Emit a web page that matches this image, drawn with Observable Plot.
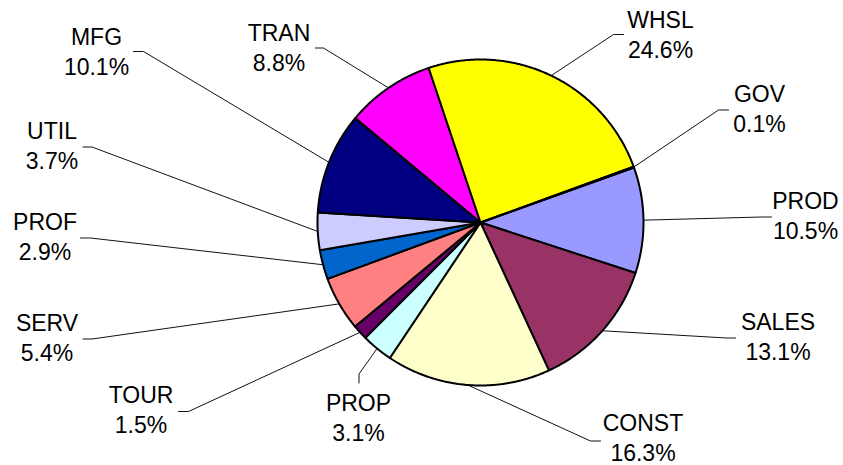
<!DOCTYPE html>
<html>
<head>
<meta charset="utf-8">
<script src="https://cdn.jsdelivr.net/npm/d3@7"></script>
<script src="https://cdn.jsdelivr.net/npm/@observablehq/plot@0.6"></script>
<style>
  html, body { margin: 0; padding: 0; background: #fff; }
  #chart svg { display: block; }
</style>
</head>
<body>
<div id="chart"></div>
<script>
// ---- data ----
const sectors = ["PROD", "SALES", "CONST", "PROP", "TOUR", "SERV", "PROF", "UTIL", "MFG", "TRAN", "WHSL", "GOV"];
const shares  = [10.5, 13.1, 16.3, 3.1, 1.5, 5.4, 2.9, 3.7, 10.1, 8.8, 24.6, 0.1];

// ---- style ----
const palette = ["#9999FF", "#993366", "#FFFFCC", "#CCFFFF", "#660066", "#FF8080", "#0066CC", "#CCCCFF", "#000080", "#FF00FF", "#FFFF00", "#00FFFF"];

// ---- layout ----
const W = 843, H = 465, CX = 480, CY = 222, R = 163, START_DEG = 70.3;
const FONT = 23, LINE = 30;
// label center x, first-line baseline y, leader: label-side end and elbow
const labelLayout = {
  WHSL:  {x: 660,   y: 27.5,  end: [623, 34],    elbow: [613, 34]},
  GOV:   {x: 759,   y: 101.5, end: [728, 109.5], elbow: [718, 109.5]},
  PROD:  {x: 805,   y: 208.5, end: [771, 216.5], elbow: [761, 216.5]},
  SALES: {x: 777.5, y: 329,   end: [735, 337.5], elbow: [726, 337.5]},
  CONST: {x: 642.5, y: 430,   end: [600, 440.5], elbow: [590, 440.5]},
  PROP:  {x: 358,   y: 410,   end: [358.5, 382.5], elbow: [358.5, 373.5]},
  TOUR:  {x: 140.5, y: 402.5, end: [178, 411],   elbow: [188, 411]},
  SERV:  {x: 46.5,  y: 330.5, end: [82.5, 338.5], elbow: [91.5, 338.5]},
  PROF:  {x: 44.5,  y: 229.5, end: [80, 237.5],  elbow: [90, 237.5]},
  UTIL:  {x: 51.5,  y: 138.5, end: [82.5, 146.5], elbow: [91.5, 146.5]},
  MFG:   {x: 96,    y: 44,    end: [133, 51],    elbow: [143, 51]},
  TRAN:  {x: 278.5, y: 40,    end: [315, 47.5],  elbow: [323, 47.5]}
};

const a0 = START_DEG * Math.PI / 180;
const arcs = d3.pie().sort(null).value(d => d).startAngle(a0).endAngle(a0 + 2 * Math.PI)(shares);
const pt = (a, r = R) => [CX + r * Math.sin(a), CY - r * Math.cos(a)];

const slicePts = [];
const leaderPts = [];
const labels = [];
arcs.forEach((a, i) => {
  const name = sectors[i];
  slicePts.push({sector: name, x: CX, y: CY});
  const n = Math.max(2, Math.ceil((a.endAngle - a.startAngle) / (Math.PI / 360)));
  for (let k = 0; k <= n; k++) {
    const t = a.startAngle + (a.endAngle - a.startAngle) * k / n;
    const [x, y] = pt(t);
    slicePts.push({sector: name, x, y});
  }
  slicePts.push({sector: name, x: CX, y: CY});

  const L = labelLayout[name];
  const [ex, ey] = pt((a.startAngle + a.endAngle) / 2);
  leaderPts.push({sector: name, x: ex, y: ey});
  leaderPts.push({sector: name, x: L.elbow[0], y: L.elbow[1]});
  leaderPts.push({sector: name, x: L.end[0], y: L.end[1]});

  labels.push({sector: name, x: L.x, y: L.y, pct: shares[i].toFixed(1) + "%"});
});

const chart = Plot.plot({
  width: W,
  height: H,
  margin: 0,
  style: {fontFamily: "'Liberation Sans', Arial, sans-serif", background: "#fff"},
  x: {domain: [0, W], range: [0, W], axis: null},
  y: {domain: [0, H], range: [0, H], axis: null},
  color: {domain: sectors, range: palette},
  marks: [
    Plot.line(leaderPts, {x: "x", y: "y", z: "sector", stroke: "#111", strokeWidth: 1, curve: "linear"}),
    Plot.line(slicePts, {x: "x", y: "y", z: "sector", fill: "sector", stroke: "#000", strokeWidth: 2, strokeLinejoin: "round", curve: "linear"}),
    Plot.text(labels, {x: "x", y: "y", text: "sector", fontSize: FONT, lineAnchor: "bottom", textAnchor: "middle", fill: "#000"}),
    Plot.text(labels, {x: "x", y: d => d.y + LINE, text: "pct", fontSize: FONT, lineAnchor: "bottom", textAnchor: "middle", fill: "#000"})
  ]
});
document.getElementById("chart").appendChild(chart);
</script>
</body>
</html>
